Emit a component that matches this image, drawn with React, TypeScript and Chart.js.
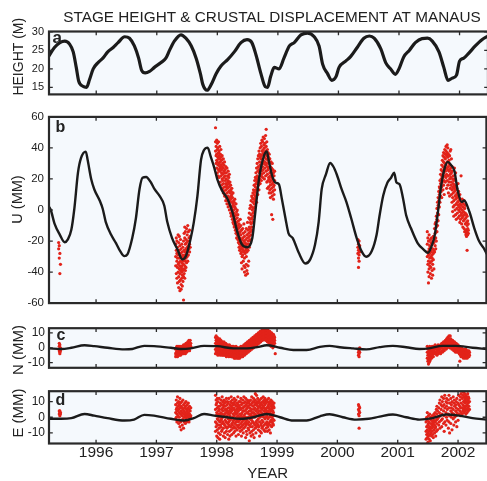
import React, { useEffect, useRef } from 'react';
import { Chart, registerables } from 'chart.js';
Chart.register(...registerables);

const FONT = '"Liberation Sans", Arial, Helvetica, sans-serif';
const TEXT = '#222222';
const FRAME = '#2a2a2a';
const BG = '#f5f9fd';
const LINE = '#1b1b1b';
const RED = '#e2231a';

const TITLE = 'STAGE HEIGHT & CRUSTAL DISPLACEMENT AT MANAUS';
const X_TITLE = 'YEAR';
const XMIN = 1995.22;
const XMAX = 2002.47;
const YEAR_TICKS = [1996, 1997, 1998, 1999, 2000, 2001, 2002];

const HEIGHT_TICKS = [15, 20, 25, 30];
const U_TICKS = [-60, -40, -20, 0, 20, 40, 60];
const N_TICKS = [-10, 0, 10];
const E_TICKS = [-10, 0, 10];

// Panel a: river stage height (m)
const HEIGHT_LINE: [number, number][] = [
  [1995.22, 23.5], [1995.31, 25.8], [1995.40, 27.1], [1995.48, 27.5], [1995.56, 26.7], [1995.62, 24.6], [1995.67, 20.4],
  [1995.71, 16.7], [1995.78, 15.3], [1995.84, 15.0], [1995.89, 17.1], [1995.95, 20.0], [1996.03, 21.7], [1996.11, 22.9],
  [1996.19, 24.6], [1996.28, 25.8], [1996.36, 27.1], [1996.47, 28.7], [1996.55, 28.3], [1996.63, 26.2], [1996.70, 22.9],
  [1996.75, 19.6], [1996.81, 18.9], [1996.88, 19.3], [1996.96, 20.4], [1997.07, 21.7], [1997.15, 22.9], [1997.21, 25.0],
  [1997.29, 27.5], [1997.40, 29.2], [1997.48, 28.3], [1997.57, 26.2], [1997.65, 22.9], [1997.72, 18.7], [1997.76, 15.8],
  [1997.83, 14.2], [1997.90, 15.8], [1997.98, 18.7], [1998.06, 20.8], [1998.17, 22.5], [1998.28, 24.6], [1998.39, 27.1],
  [1998.49, 27.9], [1998.57, 27.1], [1998.64, 23.7], [1998.72, 18.7], [1998.79, 15.2], [1998.83, 15.0], [1998.88, 17.9],
  [1998.94, 20.4], [1999.02, 20.0], [1999.10, 22.9], [1999.19, 26.2], [1999.27, 27.1], [1999.38, 29.2], [1999.49, 29.7],
  [1999.60, 28.7], [1999.68, 26.2], [1999.74, 21.2], [1999.82, 18.7], [1999.89, 16.9], [1999.96, 17.9], [2000.01, 20.4],
  [2000.12, 22.1], [2000.20, 23.3], [2000.31, 25.8], [2000.42, 28.3], [2000.51, 28.9], [2000.59, 28.3], [2000.70, 25.4],
  [2000.78, 21.7], [2000.86, 20.0], [2000.94, 18.5], [2001.00, 20.0], [2001.08, 23.3], [2001.17, 25.0], [2001.27, 27.1],
  [2001.38, 28.2], [2001.47, 28.3], [2001.55, 27.5], [2001.66, 24.6], [2001.74, 20.4], [2001.81, 16.9], [2001.88, 17.5],
  [2001.95, 18.3], [2002.00, 22.1], [2002.07, 22.9], [2002.15, 24.2], [2002.26, 26.2], [2002.37, 27.9], [2002.47, 28.9],
];

// Panel b: vertical displacement (mm), model curve
const U_LINE: [number, number][] = [
  [1995.22, 2], [1995.25, 0], [1995.31, -8.6], [1995.40, -16], [1995.48, -20.8], [1995.53, -19.1], [1995.59, -12.8],
  [1995.64, 0.8], [1995.70, 24], [1995.75, 33.4], [1995.83, 37.6], [1995.86, 32.4], [1995.92, 19.8], [1995.97, 13.4],
  [1996.06, 6.1], [1996.11, 0.8], [1996.16, -7.6], [1996.25, -16], [1996.33, -21.3], [1996.40, -26.5], [1996.47, -29.7],
  [1996.52, -28.6], [1996.60, -18.1], [1996.66, -5.5], [1996.72, 13.4], [1996.77, 20.8], [1996.83, 21.3], [1996.91, 17.7],
  [1996.97, 13.4], [1997.05, 9.3], [1997.13, 2.9], [1997.18, -7.6], [1997.26, -18.1], [1997.35, -25.5], [1997.43, -31.8],
  [1997.49, -29.7], [1997.57, -18.1], [1997.62, -8], [1997.68, 9], [1997.74, 32.4], [1997.79, 38.7], [1997.85, 40.2],
  [1997.90, 34.5], [1997.96, 27.2], [1998.01, 19.8], [1998.09, 12.4], [1998.18, 7.1], [1998.26, -1.3], [1998.34, -13.9],
  [1998.42, -22.3], [1998.51, -24], [1998.59, -18.1], [1998.64, -1.3], [1998.70, 19.8], [1998.78, 34.5], [1998.83, 37.7],
  [1998.86, 32.4], [1998.92, 21.9], [1998.97, 17.7], [1999.03, 16.6], [1999.08, 7.1], [1999.14, -5.5], [1999.19, -15],
  [1999.26, -18.1], [1999.36, -27.6], [1999.47, -34.5], [1999.55, -31.8], [1999.63, -22.3], [1999.69, -7.6], [1999.74, 13.4],
  [1999.81, 22.9], [1999.88, 30.3], [1999.93, 28.2], [1999.99, 22.9], [2000.07, 13.4], [2000.15, 5.1], [2000.23, -5.5],
  [2000.32, -18.1], [2000.40, -26.5], [2000.48, -30.1], [2000.57, -26.5], [2000.65, -16], [2000.70, -3.4], [2000.76, 9.3],
  [2000.83, 17.7], [2000.89, 20.8], [2000.94, 24], [2000.98, 17.7], [2001.03, 16.6], [2001.09, 7.1], [2001.14, -3.4],
  [2001.22, -11.8], [2001.33, -21.3], [2001.43, -25.5], [2001.50, -27.6], [2001.55, -24.4], [2001.61, -17], [2001.66, -3.4],
  [2001.72, 15.6], [2001.78, 27.2], [2001.83, 31], [2001.88, 29.2], [2001.94, 25.1], [2001.99, 13.4], [2002.06, 5.1],
  [2002.10, 6.1], [2002.19, -1.3], [2002.27, -11.8], [2002.35, -20.2], [2002.44, -25.5], [2002.47, -28],
];

// GPS observations, rows of [year, value, value, ...]
const U_DOTS_1995 = [[1995.38, -21, -25], [1995.39, -23, -31], [1995.40, -28, -41], [1995.41, -35]];
const U_DOTS_1997 = [
  [1997.32, -22, -30, -36], [1997.33, -18, -26, -41], [1997.34, -20, -33, -44, -28], [1997.35, -24, -37, -31, -47],
  [1997.36, -16, -29, -40, -35], [1997.37, -21, -34, -43, -50], [1997.38, -26, -38, -31, -46, -17], [1997.39, -23, -36, -41, -52],
  [1997.40, -28, -33, -39, -45, -19], [1997.41, -30, -37, -48, -51, -25], [1997.42, -22, -34, -40, -44, -36],
  [1997.43, -27, -31, -42, -49, -38], [1997.44, -24, -33, -39, -46, -29], [1997.45, -20, -35, -43, -58, -30],
  [1997.46, -26, -32, -38, -41, -15], [1997.47, -18, -29, -36, -44, -11], [1997.48, -22, -27, -33, -39, -14],
  [1997.49, -19, -25, -31, -37], [1997.50, -12, -21, -28, -34], [1997.51, -16, -24, -30], [1997.52, -10, -20, -26, -33],
  [1997.53, -14, -23, -29], [1997.54, -18, -25], [1997.55, -13, -22, -27], [1997.56, -17, -24],
];
const U_DOTS_1998 = [
  [1997.98, 53, 38, 44], [1997.99, 30, 41, 35], [1998.00, 27, 36, 45, 32], [1998.01, 24, 39, 31, 43], [1998.02, 29, 34, 40, 22],
  [1998.03, 26, 37, 33, 44], [1998.04, 21, 30, 38, 35], [1998.05, 25, 33, 28, 41], [1998.06, 18, 31, 36, 27], [1998.07, 22, 29, 34, 39],
  [1998.08, 16, 26, 32, 24], [1998.09, 20, 28, 35, 13], [1998.10, 14, 23, 30, 19], [1998.11, 17, 27, 33, 11], [1998.12, 12, 21, 29, 25],
  [1998.13, 15, 24, 31, 9], [1998.14, 10, 19, 26, 22], [1998.15, 13, 17, 28, 6], [1998.16, 8, 20, 24, 15], [1998.17, 11, 16, 27, 4],
  [1998.18, 6, 14, 22, 18], [1998.19, 9, 2, 19, 25], [1998.20, 4, 12, 17, 21], [1998.21, 0, 8, 15, 23], [1998.22, 3, 11, 6, 18],
  [1998.23, -2, 7, 13, 16], [1998.24, 1, 9, -4, 12], [1998.25, -3, 5, 10, 14], [1998.26, -6, 2, 8, -1], [1998.27, -4, 4, 11, -8],
  [1998.28, -9, 0, 6, 3], [1998.29, -7, -2, 5, -11], [1998.30, -10, -4, 2, 7], [1998.31, -13, -6, 1, -9], [1998.32, -11, -15, -3, 4],
  [1998.33, -14, -8, -1, -18], [1998.34, -16, -12, -5, 0], [1998.35, -19, -10, -14, -3], [1998.36, -17, -21, -7, -12],
  [1998.37, -20, -15, -9, -24], [1998.38, -22, -18, -11, -26], [1998.39, -14, -25, -19, -6], [1998.40, -23, -16, -28, -10],
  [1998.41, -21, -27, -13, -34], [1998.42, -25, -19, -30, -38], [1998.43, -18, -24, -29, -12], [1998.44, -26, -22, -33, -15],
  [1998.45, -20, -27, -36, -9], [1998.46, -24, -17, -31, -40], [1998.47, -28, -21, -14, -37], [1998.48, -23, -19, -26, -42],
  [1998.49, -25, -12, -30, -35], [1998.50, -22, -27, -16, -39], [1998.51, -18, -24, -41, -8], [1998.52, -20, -26, -13, -36],
  [1998.53, -15, -22, -5, -33], [1998.54, -17, -11, -24, -2], [1998.55, -12, -19, -6, 1], [1998.56, -14, -8, -20, 3],
  [1998.57, -9, -3, -16, 6], [1998.58, -11, -5, 2, 9], [1998.59, -6, 0, 8, -13], [1998.60, -2, 5, 11, -8], [1998.61, 1, 7, 13, -4],
  [1998.62, 4, 10, 16, -1], [1998.63, 2, 12, 19, 7], [1998.64, 6, 15, 21, 9], [1998.65, 8, 17, 24, 13], [1998.66, 11, 20, 27, 5],
  [1998.67, 14, 22, 30, 18], [1998.68, 10, 25, 33, 19], [1998.69, 16, 28, 35, 21], [1998.70, 18, 26, 38, 13], [1998.71, 20, 31, 36, 24],
  [1998.72, 17, 29, 40, 34], [1998.73, 22, 33, 43, 27], [1998.74, 19, 35, 41, 25], [1998.75, 23, 30, 45, 38], [1998.76, 21, 36, 44, 28],
  [1998.77, 26, 32, 47, 39], [1998.78, 24, 37, 42, 30], [1998.79, 20, 34, 46, 40], [1998.80, 27, 31, 43, 36], [1998.81, 22, 38, 48, 29],
  [1998.82, 25, 33, 52, 41], [1998.83, 18, 35, 44, 30], [1998.84, 23, 28, 39, 14], [1998.85, 19, 32, 37, 26], [1998.86, 15, 27, 34, 21],
  [1998.87, 20, 30, 36, 11], [1998.88, 13, 24, 33, 18], [1998.89, 16, 28, 22, 8], [1998.90, 11, 25, 31, 19], [1998.91, 14, 21, 27, -3],
  [1998.92, 9, 17, 30, 23], [1998.93, 12, 20, 26, -6], [1998.94, 7, 18, 24, 15], [1998.95, 16, 22, 10], [1998.96, 19, 25, 13],
];
const U_DOTS_2000 = [[2000.34, -19, -24, -28], [2000.35, -22, -26, -31, -37], [2000.36, -20, -25, -29, -33], [2000.37, -23, -27]];
const U_DOTS_2001 = [
  [2001.49, -14, -22, -30], [2001.50, -18, -27, -35, -40], [2001.51, -20, -29, -47, -33], [2001.52, -16, -25, -38, -43],
  [2001.53, -23, -31, -36, -28], [2001.54, -19, -34, -41, -26], [2001.55, -24, -30, -37, -21], [2001.56, -27, -33, -44, -18],
  [2001.57, -22, -29, -39, -31], [2001.58, -25, -35, -20, -42], [2001.59, -17, -28, -32], [2001.60, -21, -26, -38],
  [2001.61, -12, -19, -27], [2001.62, -15, -23, -9], [2001.63, -8, -18, -25], [2001.64, -11, -4, -20], [2001.65, -6, -14, 1],
  [2001.66, -2, -10, 5], [2001.67, 3, -7, 8], [2001.68, 6, -3, 12], [2001.69, 10, 2, 15], [2001.70, 14, 5, 19], [2001.71, 17, 9, 23],
  [2001.72, 20, 12, 26], [2001.73, 22, 15, 29, 8], [2001.74, 25, 18, 32], [2001.75, 28, 21, 35, 13], [2001.76, 24, 31, 37, 16],
  [2001.77, 27, 34, 19, 10], [2001.78, 30, 22, 39, 26], [2001.79, 33, 25, 36, 18], [2001.80, 29, 38, 41, 21], [2001.81, 27, 35, 23, 14],
  [2001.82, 31, 42, 19, 37], [2001.83, 34, 26, 40, 16], [2001.84, 28, 22, 36, 11], [2001.85, 32, 25, 18, 30], [2001.86, 26, 20, 35, 9],
  [2001.87, 23, 29, 14, 38], [2001.88, 21, 27, 16, 39], [2001.89, 18, 24, 10, 33], [2001.90, 25, 13, 28, 5], [2001.91, 20, 15, 8, -1],
  [2001.92, 17, 22, 11, 2], [2001.93, 14, 6, 19, -4], [2001.94, 12, 3, 16, 27], [2001.95, 9, 15, 0, 20], [2001.96, 7, 13, -3, 24],
  [2001.97, 10, 4, -6], [2001.98, 8, 1, 14], [2001.99, 5, -2, 11], [2002.00, 3, 9, -5, 17], [2002.01, 6, 0, 12], [2002.02, 2, -4, 8],
  [2002.03, 4, -1, 10, -8], [2002.04, 1, 7, -6], [2002.05, 3, -3, 22], [2002.06, -2, 5, -9], [2002.07, 0, 7, -5], [2002.08, -4, 2, -11],
  [2002.09, -1, 4, -7], [2002.10, -3, 6, -12], [2002.11, -6, 1, -14], [2002.12, -2, -9, 3], [2002.13, -5, -13, -16],
  [2002.14, -8, -3, -15, -17], [2002.15, -10, -4, -14, -26], [2002.16, -7, -12, -16], [2002.17, -9, -13, -15],
];

// Panel c: north displacement (mm)
const N_LINE: [number, number][] = [
  [1995.22, -0.4], [1995.42, -0.8], [1995.59, 0], [1995.81, 1.7], [1995.97, 1.1], [1996.19, 0], [1996.47, -1.1], [1996.60, -0.8],
  [1996.80, 1.3], [1996.96, 1.1], [1997.24, 0], [1997.40, -0.8], [1997.57, -0.4], [1997.79, 1.3], [1998.01, 1.1], [1998.28, -0.4],
  [1998.50, -0.4], [1998.67, 0.4], [1998.83, 1.7], [1999.05, 0], [1999.27, -1.5], [1999.49, -1.5], [1999.71, 0.6], [1999.87, 1.3],
  [2000.04, 0.4], [2000.26, -0.4], [2000.48, -1.1], [2000.70, 0.4], [2000.92, 1.3], [2001.14, 0.4], [2001.36, -0.8], [2001.52, -0.4],
  [2001.74, 1.3], [2001.96, 1.3], [2002.24, 0], [2002.47, -0.8],
];
const N_DOTS_1995 = [[1995.39, 3, 1, -2], [1995.40, 2, -1, -3, -4], [1995.41, 0, -2]];
const N_DOTS_1997 = [
  [1997.32, -1, -4, -6], [1997.33, 0, -3, -5], [1997.34, 1, -2, -5], [1997.35, -1, -4, -6], [1997.36, 0, -3, -5, 1],
  [1997.37, -2, -4, 0], [1997.38, -1, -3, -5], [1997.39, 1, -2, -4], [1997.40, 0, -3, -5], [1997.41, 1, -1, -4], [1997.42, -2, -3, 0],
  [1997.43, 1, -1, -4], [1997.44, 0, -2, -3], [1997.45, 2, -1, -4], [1997.46, 1, -2, -3], [1997.47, 2, 0, -3], [1997.48, 1, -1, -4],
  [1997.49, 3, 0, -2], [1997.50, 2, -1, -3], [1997.51, 3, 1, -2], [1997.52, 4, 1, -1], [1997.53, 3, 0, -2], [1997.54, 5, 2, -1],
  [1997.55, 4, 1, -2], [1997.56, 5, 2, 0], [1997.57, 3, 1],
];
const N_DOTS_1998 = [
  [1997.98, 7, 3, -1, -4], [1997.99, 5, 1, -2, 8], [1998.00, 6, 2, -3, 4], [1998.01, 3, 0, -4, 7], [1998.02, 5, 1, -2, -5],
  [1998.03, 4, 2, -1, 6], [1998.04, 2, -1, -4, 5], [1998.05, 3, 0, -3, 6], [1998.06, 1, -2, 4, -5], [1998.07, 2, -1, 5, -4],
  [1998.08, 3, 0, -3, 1], [1998.09, 1, -2, 4, -5], [1998.10, 2, -1, -4, 3], [1998.11, 0, -3, 3, -5], [1998.12, 1, -2, 4, -4],
  [1998.13, 0, -3, 2, -5], [1998.14, -1, 2, -4, 1], [1998.15, 0, -2, 3, -5], [1998.16, -1, -3, 2, -6], [1998.17, 1, -2, -4, 0],
  [1998.18, -1, -3, 2, -5], [1998.19, 0, -2, -4, 1], [1998.20, -1, -3, 1, -6], [1998.21, 0, -2, -5, 2], [1998.22, -1, -4, 1, -3],
  [1998.23, -2, 0, -5, -3], [1998.24, -1, -3, 1, -6], [1998.25, -2, 0, -4, -6], [1998.26, -1, -3, 1, -5], [1998.27, -2, -4, 0, -6],
  [1998.28, -3, -1, -5, 1], [1998.29, -2, -4, 0, -7], [1998.30, -3, -1, -5, -6], [1998.31, -2, -4, 0, -7], [1998.32, -3, -1, -5, 1],
  [1998.33, -2, -4, -6, 0], [1998.34, -3, -1, -5, -7], [1998.35, -2, -4, 0, -6], [1998.36, -3, -1, -5, -7], [1998.37, -2, -4, 0, -6],
  [1998.38, -3, -1, -5, -7], [1998.39, -2, -4, 0, -6], [1998.40, -1, -3, -5, 1], [1998.41, -2, -4, 0, -6], [1998.42, -3, -1, -5, 1],
  [1998.43, -2, 0, -4, -6], [1998.44, -1, -3, 1, -5], [1998.45, -2, 0, -4, 2], [1998.46, -1, -3, 1, -5], [1998.47, 0, -2, 2, -4],
  [1998.48, -1, 1, -3, 3], [1998.49, 0, -2, 2, -4], [1998.50, 1, -1, 3, -3], [1998.51, 0, 2, -2, 4], [1998.52, 1, -1, 3, -3],
  [1998.53, 2, 0, 4, -2], [1998.54, 1, 3, -1, 5], [1998.55, 2, 0, 4, -2], [1998.56, 3, 1, 5, -1], [1998.57, 2, 4, 0, 6],
  [1998.58, 3, 1, 5, -1], [1998.59, 4, 2, 6, 0], [1998.60, 3, 5, 1, 7], [1998.61, 4, 2, 6, 0], [1998.62, 5, 3, 7, 1],
  [1998.63, 4, 6, 2, 8], [1998.64, 5, 3, 7, 1], [1998.65, 6, 4, 8, 2], [1998.66, 5, 7, 3, 9], [1998.67, 6, 4, 8, 2],
  [1998.68, 7, 5, 9, 3], [1998.69, 6, 8, 4, 10], [1998.70, 7, 5, 9, 3], [1998.71, 8, 6, 10, 4], [1998.72, 7, 9, 5, 11],
  [1998.73, 8, 6, 10, 4], [1998.74, 9, 7, 11, 5], [1998.75, 8, 10, 6, 12], [1998.76, 9, 7, 11, 5], [1998.77, 10, 8, 12, 6],
  [1998.78, 9, 11, 7, 13], [1998.79, 10, 8, 12, 6], [1998.80, 11, 9, 13, 7], [1998.81, 10, 12, 8, 5], [1998.82, 9, 11, 7, 13],
  [1998.83, 10, 8, 12, 6], [1998.84, 9, 11, 7, 4], [1998.85, 10, 8, 12, 5], [1998.86, 9, 7, 11, 4], [1998.87, 8, 10, 6, 3],
  [1998.88, 9, 7, 11, 4], [1998.89, 8, 6, 10, 2], [1998.90, 7, 9, 5, 1], [1998.91, 8, 6, 10, 3], [1998.92, 7, 5, 9, 2],
  [1998.93, 6, 8, 4, 0], [1998.94, 7, 5, 9, 2], [1998.95, 6, 4, 8, 1], [1998.96, 5, 3, 7], [1998.97, -4],
];
const N_DOTS_2000 = [[2000.35, -1, -3, -5], [2000.36, -2, -4, -6], [2000.37, 0, -3]];
const N_DOTS_2001 = [
  [2001.49, 1, -3, -7], [2001.50, -1, -5, -9], [2001.51, 0, -4, -8, -11], [2001.52, -2, -6, -10], [2001.53, 1, -3, -7, -9],
  [2001.54, -1, -5, -8], [2001.55, 0, -4, -6], [2001.56, -2, -3, -7], [2001.57, 1, -1, -5], [2001.58, 0, -2, -4],
  [2001.59, -1, -3, -6], [2001.60, 1, -2, -4], [2001.62, 0, -3, 2], [2001.63, -1, -4, 1], [2001.65, 0, -2, -5], [2001.66, 1, -3],
  [2001.67, -1, -4, 2], [2001.68, 0, -2], [2001.70, 1, -3, -1], [2001.71, 2, 0, -4], [2001.73, 1, -2, 3], [2001.74, 0, -3, 2],
  [2001.76, 2, -1, 4], [2001.77, 1, -2, 3], [2001.79, 3, 0, 5], [2001.80, 2, -1, 4], [2001.81, 4, 1, 6], [2001.82, 3, 0, 5],
  [2001.83, 5, 2, 7], [2001.84, 4, 1, 6], [2001.85, 5, 2, 8], [2001.86, 6, 3, 0], [2001.87, 5, 8, 2], [2001.88, 4, 6, 1],
  [2001.89, 3, 5, 0], [2001.90, 4, 2, -1], [2001.91, 3, 5, 0], [2001.92, 2, 4, -1], [2001.93, 3, 1, -2], [2001.94, 2, 4, 0],
  [2001.95, 1, 3, -2], [2001.96, 2, 0, -3], [2001.97, 1, -1, 3], [2001.98, 0, -2, 2], [2001.99, 1, -3, -1], [2002.00, 0, -2, 2],
  [2002.01, -1, 1, -3], [2002.02, 0, -2, -4], [2002.03, -1, -9, -3], [2002.04, -2, 0, -5], [2002.05, -1, -3, -6], [2002.06, -2, 0, -4],
  [2002.07, -3, -1, -5], [2002.08, -2, -4, -6], [2002.09, -1, -3, -7], [2002.10, -2, -4, -5], [2002.11, -3, -1, -6],
  [2002.12, -2, -4, -7], [2002.13, -3, -5, -1], [2002.14, -4, -2, -6], [2002.15, -3, -5, -7], [2002.16, -2, -4, -6],
  [2002.17, -3, -5], [2002.18, -4, -2, -6], [2002.19, -3, -5],
];

// Panel d: east displacement (mm)
const E_LINE: [number, number][] = [
  [1995.22, -1], [1995.42, -1], [1995.59, -0.6], [1995.81, 2.1], [1995.97, 1], [1996.19, -0.6], [1996.47, -2.1], [1996.63, -1.5],
  [1996.80, 1.5], [1996.96, 1], [1997.24, -1], [1997.46, -2.1], [1997.62, -0.6], [1997.79, 2.1], [1997.96, 1], [1998.17, 0],
  [1998.39, -1], [1998.61, 0], [1998.83, 2.1], [1999.05, 0], [1999.27, -2.1], [1999.49, -2.1], [1999.71, 0.6], [1999.87, 1.9],
  [2000.09, 0], [2000.31, -1.5], [2000.52, -1], [2000.70, 0.4], [2000.92, 1.7], [2001.14, 0], [2001.36, -1.5], [2001.58, -0.6],
  [2001.80, 1.7], [2002.02, 1], [2002.24, -0.6], [2002.47, -1.5],
];
const E_DOTS_1995 = [[1995.39, 4, 2], [1995.40, 3, 1, 4], [1995.41, 2, 3]];
const E_DOTS_1997 = [
  [1997.32, 8, 3, -1], [1997.33, 11, 5, 0], [1997.34, 6, 2, -3], [1997.35, 13, 9, 4], [1997.36, 7, 1, -2], [1997.37, 10, 5, -4],
  [1997.38, 8, 3, 0], [1997.39, 12, 6, -6], [1997.40, 9, 2, -3], [1997.41, 7, 4, -8], [1997.42, 10, 1, -2], [1997.43, 6, 3, -5],
  [1997.44, 11, 5, -1], [1997.45, 8, 2, -7], [1997.46, 4, 0, -3], [1997.47, 9, 6, 1], [1997.48, 7, 3, -4], [1997.49, 10, 2, -1],
  [1997.50, 5, 0, -3], [1997.51, 8, 4, 1], [1997.52, 6, 2, -2], [1997.53, 9, 3, 0], [1997.54, 5, 1, -3], [1997.55, 7, 2, -1],
  [1997.56, 4, 0], [1997.57, 6, 1],
];
const E_DOTS_1998 = [
  [1997.98, 14, 5, -3, -9], [1997.99, 8, 1, -6, 11], [1998.00, 3, -4, 9, -12], [1998.01, 6, -1, -8, 12], [1998.02, 10, 2, -5, -13],
  [1998.03, 4, -2, 7, -10], [1998.04, 12, 0, -7, 5], [1998.05, 7, -3, 2, -14], [1998.06, 9, 1, -5, -11], [1998.07, 3, -6, 11, -2],
  [1998.08, 8, -1, 5, -9], [1998.09, 13, 2, -4, -8], [1998.10, 6, -3, 10, 0], [1998.11, 4, -7, 8, -12], [1998.12, 11, 1, -4, 7],
  [1998.13, 2, -5, 9, -10], [1998.14, 7, -2, 5, -13], [1998.15, 10, 0, -6, 3], [1998.16, 5, -3, 12, -9], [1998.17, 8, 1, -7, 4],
  [1998.18, 3, -4, 10, -11], [1998.19, 9, -1, 6, -6], [1998.20, 12, 2, -3, -14], [1998.21, 6, -5, 4, -9], [1998.22, 1, 8, -2, -12],
  [1998.23, 10, 3, -6, 5], [1998.24, 7, -1, -8, 13], [1998.25, 4, -4, 9, -11], [1998.26, 11, 0, -5, 6], [1998.27, 2, -7, 8, -3],
  [1998.28, 9, -2, 5, -10], [1998.29, 6, 1, -6, 12], [1998.30, 3, -4, 10, -9], [1998.31, 8, -1, -7, 4], [1998.32, 11, 2, -3, -12],
  [1998.33, 5, -5, 7, 0], [1998.34, 9, -2, 3, -8], [1998.35, 13, 1, -6, 6], [1998.36, 4, -3, 8, -11], [1998.37, 7, 0, -5, 10],
  [1998.38, 2, -7, 5, -2], [1998.39, 10, -1, 6, -9], [1998.40, 5, -4, 12, 1], [1998.41, 8, 2, -6, -12], [1998.42, 3, -3, 9, -8],
  [1998.43, 11, 0, -5, 6], [1998.44, 6, -2, 4, -10], [1998.45, 9, 1, -7, 13], [1998.46, 4, -4, 7, -1], [1998.47, 7, -6, 10, 2],
  [1998.48, 12, 0, -3, -13], [1998.49, 5, -5, 8, -9], [1998.50, 9, 3, -2, -11], [1998.51, 3, -4, 6, 11], [1998.52, 7, 0, -7, 10],
  [1998.53, 2, -3, 9, -8], [1998.54, 10, 4, -5, -15], [1998.55, 6, -1, 8, -10], [1998.56, 4, -6, 11, 1], [1998.57, 8, 2, -4, -12],
  [1998.58, 5, -2, 13, -9], [1998.59, 9, 0, -6, 3], [1998.60, 7, -3, 10, -11], [1998.61, 3, 1, -8, 12], [1998.62, 10, -4, 5, -13],
  [1998.63, 6, 0, -5, 8], [1998.64, 11, 2, -7, 15], [1998.65, 4, -3, 9, -10], [1998.66, 8, 1, -6, 14], [1998.67, 5, -4, 10, -2],
  [1998.68, 12, 3, -5, 7], [1998.69, 6, -1, 9, -8], [1998.70, 10, 2, -6, 4], [1998.71, 7, -3, 11, -12], [1998.72, 4, 0, 8, -9],
  [1998.73, 9, -5, 6, 1], [1998.74, 12, 3, -4, -10], [1998.75, 5, -2, 8, -7], [1998.76, 10, 1, -6, 6], [1998.77, 7, -3, 13, 2],
  [1998.78, 4, -8, 9, 0], [1998.79, 11, 2, -5, 6], [1998.80, 8, -1, -9, 12], [1998.81, 5, 3, -4, 10], [1998.82, 9, 0, -7, 4],
  [1998.83, 6, -3, 11, 1], [1998.84, 10, 2, -5, -9], [1998.85, 4, -1, 7, -6], [1998.86, 8, 3, -4, 12], [1998.87, 6, 0, -8, 9],
  [1998.88, 3, -3, 10, 5], [1998.89, 9, 1, -5, -10], [1998.90, 7, -2, 4, 11], [1998.91, 5, 0, -6, 8], [1998.92, 10, 2, -3, 6],
  [1998.93, 4, -4, 8, -1], [1998.94, 7, 1, -5, 3], [1998.95, 6, -2, 9],
];
const E_DOTS_2000 = [[2000.35, 8, 5, 2], [2000.36, 7, 4, 1, -7], [2000.37, 6, 3]];
const E_DOTS_2001 = [
  [2001.47, -3, -9, -14], [2001.48, 0, -6, -11], [2001.49, -2, -8, -13, 3], [2001.50, -5, -10, -16], [2001.51, 1, -4, -12],
  [2001.52, -3, -7, -14, -9], [2001.53, 2, -6, -11], [2001.54, -1, -8, -15], [2001.55, -4, -10, 0], [2001.56, -2, -7, -12],
  [2001.57, 1, -5, -9], [2001.58, -3, -11, -6], [2001.59, 0, -4, -13], [2001.60, -2, -8, 2], [2001.61, -5, -10, 1],
  [2001.62, 3, -3, -7], [2001.63, 0, -6, -12], [2001.64, 5, -2, -9], [2001.65, 2, -4, 7], [2001.66, -1, 4, -8], [2001.68, 6, 0, -5],
  [2001.69, 9, 3, -3], [2001.70, 1, -7, 11], [2001.72, 5, -2, 8], [2001.73, 13, 2, -6], [2001.74, 7, -1, 10], [2001.76, 4, -4, 12],
  [2001.77, 8, 1, -9], [2001.78, 14, 6, -3], [2001.80, 3, 10, -5], [2001.81, 7, 0, 12], [2001.82, 5, -2, 9], [2001.84, 11, 2, -7],
  [2001.85, 6, -3, 14], [2001.86, 9, 1, -10], [2001.88, 4, 12, -4], [2001.89, 8, 0, 6], [2001.90, 10, 3, -8], [2001.92, 5, -1, 13],
  [2001.93, 9, 2, -5], [2001.94, 7, 11, 0], [2001.96, 4, -3, 8], [2001.97, 10, 6, 1], [2001.98, 12, -6, 3], [2002.00, 5, 9, -2],
  [2002.01, 8, 14, 2], [2002.03, 11, 4, 7], [2002.04, 6, 13, 1], [2002.05, 9, 3, 15], [2002.07, 12, 6, 2], [2002.08, 8, 14, 4],
  [2002.09, 10, 5, 16], [2002.10, 7, 13, 3], [2002.11, 11, 6, 15], [2002.12, 9, 4, 12], [2002.13, 14, 7, 2], [2002.14, 10, 5, 13],
  [2002.15, 8, 12, 3], [2002.16, 11, 6, 15], [2002.17, 9, 4, 13], [2002.18, 7, 12], [2002.19, 10, 5],
];

const toPoints = (pairs: [number, number][]) => pairs.map(([x, y]) => ({ x, y }));
const rowsToPoints = (...groups: number[][][]) =>
  groups.flatMap((rows) => rows.flatMap(([x, ...ys]) => ys.map((y) => ({ x, y }))));

type PanelSpec = {
  key: string;
  top: number;
  height: number;
  padTop: number;
  padBottom: number;
  yMin: number;
  yMax: number;
  yTicks: number[];
  tickFont: number;
  tickPad: number;
  line: { x: number; y: number }[];
  lineWidth: number;
  dots: { x: number; y: number }[] | null;
  letter: string;
  letterSize: number;
  letterDx: number;
  letterDy: number;
  yTitle: string;
  yTitleSize: number;
  yTitleX: number;
  yTitleY: number;
  showTitle: boolean;
  showX: boolean;
  xAxisHeight: number;
};

const PANELS: PanelSpec[] = [
  {
    key: 'a', top: 0, height: 106, padTop: 31.5, padBottom: 5.2, yMin: 13.08, yMax: 30.12, yTicks: HEIGHT_TICKS,
    tickFont: 11, tickPad: 5, line: toPoints(HEIGHT_LINE), lineWidth: 3.2, dots: null,
    letter: 'a', letterSize: 17, letterDx: 3.5, letterDy: 11.3, yTitle: 'HEIGHT (M)', yTitleSize: 14, yTitleX: 19, yTitleY: 56.7,
    showTitle: true, showX: false, xAxisHeight: 0,
  },
  {
    key: 'b', top: 105, height: 210, padTop: 10, padBottom: 9.7, yMin: -60, yMax: 60, yTicks: U_TICKS,
    tickFont: 11.5, tickPad: 5, line: toPoints(U_LINE), lineWidth: 2.4,
    dots: rowsToPoints(U_DOTS_1995, U_DOTS_1997, U_DOTS_1998, U_DOTS_2000, U_DOTS_2001),
    letter: 'b', letterSize: 16, letterDx: 6.5, letterDy: 15.3, yTitle: 'U (MM)', yTitleSize: 14.5, yTitleX: 18, yTitleY: 199.5,
    showTitle: false, showX: false, xAxisHeight: 0,
  },
  {
    key: 'c', top: 317, height: 62, padTop: 10, padBottom: 10, yMin: -13.5, yMax: 13.2, yTicks: N_TICKS,
    tickFont: 12, tickPad: 4, line: toPoints(N_LINE), lineWidth: 2.4,
    dots: rowsToPoints(N_DOTS_1995, N_DOTS_1997, N_DOTS_1998, N_DOTS_2000, N_DOTS_2001),
    letter: 'c', letterSize: 16, letterDx: 7.5, letterDy: 11.7, yTitle: 'N (MM)', yTitleSize: 15, yTitleX: 18.5, yTitleY: 350,
    showTitle: false, showX: false, xAxisHeight: 0,
  },
  {
    key: 'd', top: 380, height: 104, padTop: 10.5, padBottom: 0, yMin: -16.75, yMax: 16.6, yTicks: E_TICKS,
    tickFont: 12, tickPad: 4, line: toPoints(E_LINE), lineWidth: 2.4,
    dots: rowsToPoints(E_DOTS_1995, E_DOTS_1997, E_DOTS_1998, E_DOTS_2000, E_DOTS_2001),
    letter: 'd', letterSize: 16, letterDx: 6.5, letterDy: 14.2, yTitle: 'E (MM)', yTitleSize: 15, yTitleX: 18.5, yTitleY: 413,
    showTitle: false, showX: true, xAxisHeight: 40.5,
  },
];

const CANVAS_W = 488;
const TITLE_X = 272;
const TITLE_Y = 17.5;

function makeDecor(spec: PanelSpec) {
  return {
    id: 'decor' + spec.key,
    beforeDatasetsDraw(chart: any) {
      const { ctx, chartArea: ca } = chart;
      ctx.save();
      ctx.fillStyle = BG;
      ctx.fillRect(ca.left, ca.top, ca.right - ca.left, ca.bottom - ca.top);
      ctx.restore();
    },
    afterDraw(chart: any) {
      const { ctx, chartArea: ca, scales } = chart;
      const xs = scales.x;
      const ys = scales.y;
      ctx.save();
      ctx.strokeStyle = FRAME;
      ctx.lineWidth = 1.3;
      const tl = 3.8;
      ctx.beginPath();
      for (const v of YEAR_TICKS) {
        const px = xs.getPixelForValue(v);
        ctx.moveTo(px, ca.top);
        ctx.lineTo(px, ca.top + tl);
        ctx.moveTo(px, ca.bottom);
        ctx.lineTo(px, ca.bottom - tl);
      }
      for (const v of spec.yTicks) {
        const py = ys.getPixelForValue(v);
        ctx.moveTo(ca.left, py);
        ctx.lineTo(ca.left + tl, py);
        ctx.moveTo(ca.right, py);
        ctx.lineTo(ca.right - tl, py);
      }
      ctx.stroke();
      ctx.lineWidth = 2.2;
      ctx.strokeRect(ca.left, ca.top, ca.right - ca.left, ca.bottom - ca.top);
      ctx.fillStyle = TEXT;
      ctx.font = `bold ${spec.letterSize}px ${FONT}`;
      ctx.textAlign = 'left';
      ctx.textBaseline = 'alphabetic';
      ctx.fillText(spec.letter, ca.left + spec.letterDx, ca.top + spec.letterDy);
      if (spec.showTitle) {
        ctx.font = `15.3px ${FONT}`;
        ctx.textAlign = 'center';
        ctx.textBaseline = 'middle';
        ctx.fillText(TITLE, TITLE_X, TITLE_Y);
      }
      ctx.translate(spec.yTitleX, spec.yTitleY - spec.top);
      ctx.rotate(-Math.PI / 2);
      ctx.font = `${spec.yTitleSize}px ${FONT}`;
      ctx.textAlign = 'center';
      ctx.textBaseline = 'middle';
      ctx.fillText(spec.yTitle, 0, 0);
      ctx.restore();
    },
  };
}

function buildConfig(spec: PanelSpec): any {
  const datasets: any[] = [
    {
      data: spec.line,
      showLine: true,
      borderColor: LINE,
      borderWidth: spec.lineWidth,
      pointRadius: 0,
      pointHoverRadius: 0,
      fill: false,
      cubicInterpolationMode: 'monotone',
      borderJoinStyle: 'round',
      borderCapStyle: 'round',
    },
  ];
  if (spec.dots) {
    datasets.push({
      data: spec.dots,
      showLine: false,
      pointRadius: 1.6,
      pointHoverRadius: 1.6,
      pointBackgroundColor: RED,
      pointBorderWidth: 0,
      backgroundColor: RED,
      borderColor: RED,
    });
  }
  return {
    type: 'scatter',
    data: { datasets },
    options: {
      responsive: false,
      animation: false,
      events: [],
      layout: { padding: { top: spec.padTop, bottom: spec.padBottom, left: 0, right: 0 } },
      plugins: {
        legend: { display: false },
        tooltip: { enabled: false },
        title: { display: false },
      },
      scales: {
        x: {
          type: 'linear',
          min: XMIN,
          max: XMAX,
          display: spec.showX,
          afterBuildTicks: (s: any) => {
            s.ticks = YEAR_TICKS.map((v) => ({ value: v }));
          },
          afterFit: (s: any) => {
            s.height = spec.xAxisHeight;
          },
          grid: { display: false, drawTicks: false },
          border: { display: false },
          ticks: {
            color: TEXT,
            padding: 0,
            maxRotation: 0,
            autoSkip: false,
            font: { family: FONT, size: 15.5 },
            callback: (v: any) => String(v),
          },
          title: {
            display: spec.showX,
            text: X_TITLE,
            color: TEXT,
            padding: { top: 0, bottom: 1 },
            font: { family: FONT, size: 15 },
          },
        },
        y: {
          type: 'linear',
          min: spec.yMin,
          max: spec.yMax,
          afterBuildTicks: (s: any) => {
            s.ticks = spec.yTicks.map((v) => ({ value: v }));
          },
          afterFit: (s: any) => {
            s.width = 49;
          },
          grid: { display: false, drawTicks: false },
          border: { display: false },
          ticks: {
            color: TEXT,
            padding: spec.tickPad,
            autoSkip: false,
            font: { family: FONT, size: spec.tickFont },
            callback: (v: any) => String(v),
          },
        },
      },
    },
    plugins: [makeDecor(spec)],
  };
}

function Panel({ spec }: { spec: PanelSpec }) {
  const ref = useRef<HTMLCanvasElement>(null);
  useEffect(() => {
    if (!ref.current) return;
    const chart = new Chart(ref.current, buildConfig(spec));
    return () => chart.destroy();
  }, [spec]);
  return (
    <canvas
      ref={ref}
      width={CANVAS_W}
      height={spec.height}
      style={{ position: 'absolute', left: 0, top: spec.top, width: CANVAS_W, height: spec.height }}
    />
  );
}

export default function App() {
  return (
    <div
      style={{
        position: 'absolute',
        left: 0,
        top: 0,
        width: 487,
        height: 481,
        overflow: 'hidden',
        background: '#ffffff',
      }}
    >
      {PANELS.map((p) => (
        <Panel key={p.key} spec={p} />
      ))}
    </div>
  );
}
